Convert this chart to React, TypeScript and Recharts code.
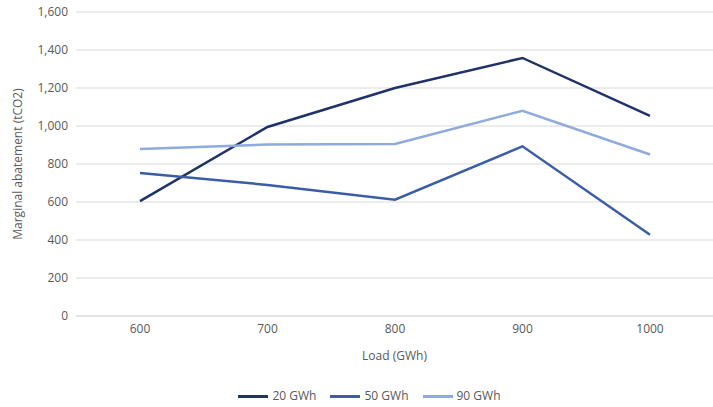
import React from "react";
import { LineChart, Line, XAxis, YAxis, CartesianGrid, Legend } from "recharts";

const loads = ["600", "700", "800", "900", "1000"];
const gwh20 = [605, 995, 1200, 1358, 1053];
const gwh50 = [753, 690, 612, 893, 428];
const gwh90 = [879, 902, 905, 1080, 850];
const yTicks = [0, 200, 400, 600, 800, 1000, 1200, 1400, 1600];

const series = [
  { key: "g20", name: "20 GWh", color: "#1F3369" },
  { key: "g50", name: "50 GWh", color: "#3A5DA5" },
  { key: "g90", name: "90 GWh", color: "#8FAADC" },
];

const data = loads.map((load, i) => ({
  load,
  g20: gwh20[i],
  g50: gwh50[i],
  g90: gwh90[i],
}));

const font = "'Open Sans', 'Noto Sans', sans-serif";
const textColor = "#595959";

function LegendContent() {
  return (
    <div style={{ display: "flex", justifyContent: "center", paddingLeft: 26, fontFamily: font, fontSize: 12, color: textColor, height: 16, lineHeight: "16px" }}>
      {series.map((s) => (
        <div key={s.key} style={{ display: "flex", alignItems: "center", margin: "0 7px" }}>
          <span style={{ display: "inline-block", width: 30, height: 3, background: s.color, marginRight: 4 }} />
          <span>{s.name}</span>
        </div>
      ))}
    </div>
  );
}

export default function App() {
  return (
    <div style={{ position: "absolute", left: 0, top: 0, background: "#fff" }}>
      <LineChart
        width={713}
        height={407}
        data={data}
        margin={{ top: 12, right: 0, bottom: 45, left: 0 }}>
        <CartesianGrid vertical={false} stroke="#D9D9D9" strokeWidth={1} />
        <XAxis
          dataKey="load"
          padding={{ left: 64, right: 63 }}
          axisLine={{ stroke: "#D9D9D9" }}
          tickLine={false}
          tick={{ fontSize: 12, fill: textColor, fontFamily: font }}
          label={{ value: "Load (GWh)", position: "bottom", offset: 5, fontSize: 12, fill: textColor, fontFamily: font }}
        />
        <YAxis
          width={76}
          domain={[0, 1600]}
          ticks={yTicks}
          axisLine={false}
          tickLine={false}
          tickFormatter={(v: number) => v.toLocaleString("en-US")}
          tick={{ fontSize: 12, fill: textColor, fontFamily: font }}
          label={{
            value: "Marginal abatement (tCO2)",
            angle: -90,
            position: "insideLeft",
            offset: 18,
            style: { textAnchor: "middle" },
            fontSize: 12,
            fill: textColor,
            fontFamily: font,
          }}
        />
        <Legend verticalAlign="bottom" content={LegendContent} wrapperStyle={{ bottom: 3 }} />
        {series.map((s) => (
          <Line
            key={s.key}
            type="linear"
            dataKey={s.key}
            name={s.name}
            stroke={s.color}
            strokeWidth={2.5}
            dot={false}
            isAnimationActive={false}
          />
        ))}
      </LineChart>
    </div>
  );
}
